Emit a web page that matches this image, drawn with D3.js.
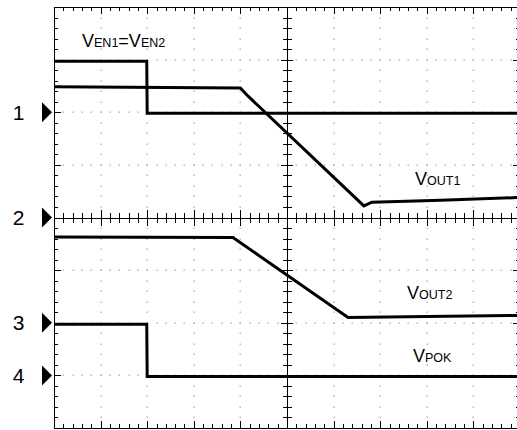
<!DOCTYPE html>
<html>
<head>
<meta charset="utf-8">
<script src="https://cdn.jsdelivr.net/npm/d3@7"></script>
<style>
  html, body { margin: 0; padding: 0; background: #fff; }
  svg { display: block; font-family: "Liberation Sans", Arial, sans-serif; }
</style>
</head>
<body>
<div id="scope"></div>
<script>
// screen is 10 x 8 divisions, y counted in divisions from the top
var channels = ["1", "2", "3", "4"]
var channelLevels = [2, 4, 6, 7]

var venT = [0, 1.99, 2.0, 10]
var venV = [1.03, 1.03, 2.02, 2.02]

var vout1T = [0, 4.0, 4.16, 6.65, 6.82, 8.3, 10]
var vout1V = [1.515, 1.54, 1.69, 3.78, 3.71, 3.67, 3.62]

var vout2T = [0, 3.84, 6.31, 8.0, 10]
var vout2V = [4.37, 4.38, 5.90, 5.88, 5.86]

var vpokT = [0, 1.99, 2.0, 10]
var vpokV = [6.03, 6.03, 7.02, 7.02]

var width = 517, height = 430
var x = d3.scaleLinear().domain([0, 10]).range([54, 520])
var y = d3.scaleLinear().domain([0, 8]).range([7, 428])

var svg = d3.select("#scope").append("svg")
    .attr("width", width).attr("height", height)

// dotted graticule
var dots = []
for (var i = 1; i < 10; i++) {
  if (i == 5) continue
  for (var j = 1; j < 40; j++) dots.push([i, j / 5])
}
for (var j = 1; j < 8; j++) {
  if (j == 4) continue
  for (var i = 1; i < 50; i++) dots.push([i / 5, j])
}
svg.append("g").selectAll("rect")
    .data(dots).enter().append("rect")
    .attr("x", function(d) { return Math.round(x(d[0])) - 0.5 })
    .attr("y", function(d) { return Math.round(y(d[1])) - 0.5 })
    .attr("width", 1.4).attr("height", 1.4)
    .attr("fill", "#b0b0a8")

var grid = svg.append("g").attr("stroke", "#000").attr("stroke-width", 1)
    .attr("shape-rendering", "crispEdges")

// frame
grid.append("rect")
    .attr("x", x(0) + 0.5).attr("y", y(0) + 0.5)
    .attr("width", x(10) - x(0)).attr("height", y(8) - y(0))
    .attr("fill", "none")

// centre cross
grid.append("line").attr("x1", x(0)).attr("x2", x(10))
    .attr("y1", Math.round(y(4)) + 0.5).attr("y2", Math.round(y(4)) + 0.5)
grid.append("line").attr("y1", y(0)).attr("y2", y(8))
    .attr("x1", Math.round(x(5)) + 0.5).attr("x2", Math.round(x(5)) + 0.5)

// ticks along horizontal edges and centre line
var xt = d3.range(1, 50).map(function(k) { return k / 5 })
xt.forEach(function(t) {
  var px = Math.round(x(t)) + 0.5
  var major = Math.abs(t - Math.round(t)) < 1e-6
  var len = major ? 7 : 4
  grid.append("line").attr("x1", px).attr("x2", px).attr("y1", y(0)).attr("y2", y(0) + len)
  grid.append("line").attr("x1", px).attr("x2", px).attr("y1", y(8)).attr("y2", y(8) - len)
  var c = major ? 8 : 5
  grid.append("line").attr("x1", px).attr("x2", px).attr("y1", y(4) - c).attr("y2", y(4) + c)
})
var yt = d3.range(1, 40).map(function(k) { return k / 5 })
yt.forEach(function(t) {
  var py = Math.round(y(t)) + 0.5
  var major = Math.abs(t - Math.round(t)) < 1e-6
  var len = major ? 7 : 4
  grid.append("line").attr("y1", py).attr("y2", py).attr("x1", x(0)).attr("x2", x(0) + len)
  grid.append("line").attr("y1", py).attr("y2", py).attr("x1", x(10)).attr("x2", x(10) - len)
  var c = major ? 6 : 4.5
  grid.append("line").attr("y1", py).attr("y2", py).attr("x1", x(5) - c).attr("x2", x(5) + c)
})

// traces
var traces = [[venT, venV], [vout1T, vout1V], [vout2T, vout2V], [vpokT, vpokV]]
var line = d3.line()
    .x(function(d) { return x(d[0]) })
    .y(function(d) { return y(d[1]) })

svg.append("g").selectAll("path")
    .data(traces).enter().append("path")
    .attr("d", function(d) { return line(d3.zip(d[0], d[1])) })
    .attr("fill", "none")
    .attr("stroke", "#000")
    .attr("stroke-width", 3)

// channel markers
var mk = svg.append("g").selectAll("g")
    .data(channels).enter().append("g")
    .attr("transform", function(d, i) { return "translate(0," + y(channelLevels[i]) + ")" })
mk.append("path")
    .attr("d", "M42,-10 L52,0 L42,10 Z")
    .attr("fill", "#000")
mk.append("text")
    .attr("x", 18.5).attr("y", 7.5)
    .attr("text-anchor", "middle")
    .attr("font-size", 21)
    .text(function(d) { return d })

// trace labels
function label(px, py, parts) {
  var t = svg.append("text").attr("x", px).attr("y", py).attr("font-size", 18)
  parts.forEach(function(p) {
    t.append("tspan").attr("font-size", p[1] ? 12.5 : 18).text(p[0])
  })
}
label(82, 47, [["V", 0], ["EN1", 1], ["=V", 0], ["EN2", 1]])
label(415, 185, [["V", 0], ["OUT1", 1]])
label(407, 299, [["V", 0], ["OUT2", 1]])
label(413, 362, [["V", 0], ["POK", 1]])
</script>
</body>
</html>
